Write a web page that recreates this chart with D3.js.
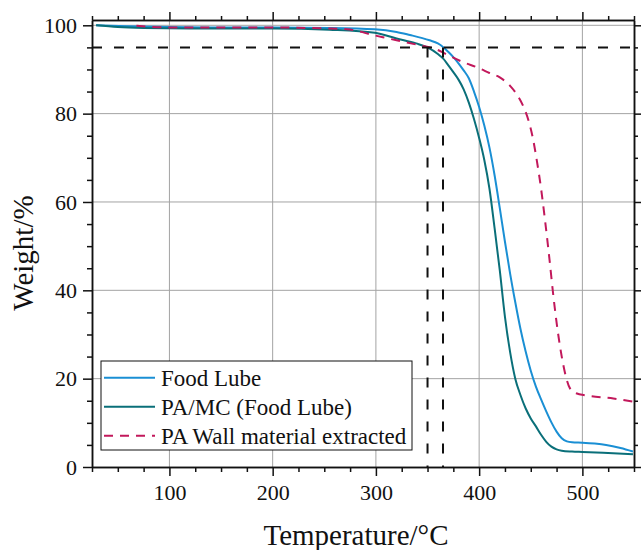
<!DOCTYPE html>
<html>
<head>
<meta charset="utf-8">
<script src="https://cdn.jsdelivr.net/npm/d3@7"></script>
<style>
    body { margin: 0; background: #fff; }
    #chart { width: 641px; height: 550px; }
    text { font-family: "Liberation Serif", "Times New Roman", serif; fill: #111; }
</style>
</head>
<body>
<div id="chart"></div>
<script>
// TGA data (temperature in °C, weight in %)
const foodLubeTemp   = [29, 60, 100, 150, 200, 255, 299, 320, 333, 345, 352, 360, 365, 370, 375, 380, 385, 390, 395, 400, 405, 410, 415, 420, 425, 430, 435, 440, 445, 450, 455, 460, 465, 470, 475, 480, 485, 490, 500, 512, 523, 537, 549];
const foodLubeWeight = [100, 99.8, 99.6, 99.5, 99.5, 99.4, 99.1, 98.5, 97.8, 97.1, 96.6, 95.9, 95.1, 94.0, 92.8, 91.4, 89.8, 88.0, 85.0, 81.5, 77.3, 72.3, 66, 58.6, 51, 43.8, 37.3, 31.3, 26.2, 21.8, 18.2, 15.3, 12.6, 10.1, 8.0, 6.5, 5.8, 5.6, 5.5, 5.3, 5.0, 4.3, 3.5];

const paMcTemp   = [29, 50, 75, 120, 200, 255, 299, 320, 339, 350, 360, 365, 370, 375, 380, 385, 390, 395, 400, 405, 410, 415, 420, 425, 430, 435, 440, 445, 450, 455, 460, 465, 470, 475, 480, 490, 500, 520, 549];
const paMcWeight = [100, 99.6, 99.4, 99.3, 99.3, 99.0, 98.3, 97.0, 95.9, 95.0, 93.5, 92.5, 91.0, 89.4, 87.7, 85.5, 82.5, 78.8, 74.5, 69.5, 63, 54, 44.5, 34, 26, 20, 16.3, 13.3, 11, 9.2, 7.3, 5.7, 4.6, 4.0, 3.7, 3.5, 3.4, 3.2, 2.9];

const paWallTemp   = [68, 100, 150, 200, 250, 272, 299, 320, 342, 357, 367, 384, 400, 410, 420, 430, 438, 444, 448, 452, 456, 460, 464, 468, 472, 476, 480, 484, 488, 494, 504, 530, 549];
const paWallWeight = [99.9, 99.5, 99.5, 99.5, 99.3, 99.1, 97.7, 96.6, 95.5, 94.7, 93.6, 91.7, 90.3, 89.2, 88.2, 86.3, 83.8, 81, 78.3, 74.5, 69.2, 63, 55.5, 47.3, 38.5, 31, 25, 20.5, 17.8, 16.7, 16.2, 15.5, 14.8];

const seriesNames = ['Food Lube', 'PA/MC (Food Lube)', 'PA Wall material extracted'];
const xTicks = [100, 200, 300, 400, 500];
const yTicks = [0, 20, 40, 60, 80, 100];
const onsetTemps = [350, 365];   // 5% weight loss markers
const onsetWeight = 95;

class TgaChart {
    constructor(containerId) {
        this.container = d3.select(`#${containerId}`);
        this.width = 641;
        this.height = 550;
        this.margin = { top: 20, right: 7, bottom: 83, left: 92 };
    }

    render() {
        const { width, height, margin } = this;
        const innerWidth = width - margin.left - margin.right;
        const innerHeight = height - margin.top - margin.bottom;

        const svg = this.container.append('svg')
            .attr('width', width)
            .attr('height', height);

        const g = svg.append('g')
            .attr('transform', `translate(${margin.left},${margin.top})`);

        const xScale = d3.scaleLinear().domain([25, 550]).range([0, innerWidth]);
        const yScale = d3.scaleLinear().domain([0, 101.2]).range([innerHeight, 0]);

        const series = [
            { name: seriesNames[0], temp: foodLubeTemp, weight: foodLubeWeight, color: '#1a8fd4', dash: null },
            { name: seriesNames[1], temp: paMcTemp, weight: paMcWeight, color: '#0a6f79', dash: null },
            { name: seriesNames[2], temp: paWallTemp, weight: paWallWeight, color: '#c2185b', dash: '9,7' }
        ];

        // grid lines
        g.append('g').selectAll('line')
            .data(xTicks)
            .enter().append('line')
            .attr('x1', d => xScale(d)).attr('x2', d => xScale(d))
            .attr('y1', 0).attr('y2', innerHeight)
            .attr('stroke', '#a3a3a3').attr('stroke-width', 1);

        g.append('g').selectAll('line')
            .data(yTicks.filter(d => d > 0))
            .enter().append('line')
            .attr('x1', 0).attr('x2', innerWidth)
            .attr('y1', d => yScale(d)).attr('y2', d => yScale(d))
            .attr('stroke', '#a3a3a3').attr('stroke-width', 1);

        // clip for curves
        svg.append('defs').append('clipPath').attr('id', 'plot-clip')
            .append('rect').attr('width', innerWidth).attr('height', innerHeight);

        const line = d3.line()
            .x(d => xScale(d[0]))
            .y(d => yScale(d[1]))
            .curve(d3.curveMonotoneX);

        const curves = g.append('g').attr('clip-path', 'url(#plot-clip)');
        series.forEach(s => {
            curves.append('path')
                .datum(d3.zip(s.temp, s.weight))
                .attr('fill', 'none')
                .attr('stroke', s.color)
                .attr('stroke-width', 2)
                .attr('stroke-dasharray', s.dash)
                .attr('d', line);
        });

        // 5% weight loss markers
        g.append('line')
            .attr('x1', 0).attr('x2', innerWidth)
            .attr('y1', yScale(onsetWeight)).attr('y2', yScale(onsetWeight))
            .attr('stroke', '#111').attr('stroke-width', 2)
            .attr('stroke-dasharray', '10,12');

        g.selectAll('.onset')
            .data(onsetTemps)
            .enter().append('line')
            .attr('class', 'onset')
            .attr('x1', d => xScale(d)).attr('x2', d => xScale(d))
            .attr('y1', yScale(onsetWeight)).attr('y2', innerHeight)
            .attr('stroke', '#111').attr('stroke-width', 2)
            .attr('stroke-dasharray', '10,12');

        // axes: major + minor ticks on all four sides
        const xMinor = d3.range(25, 551, 25).filter(d => d % 100 !== 0);
        const yMinor = d3.range(5, 101, 5).filter(d => d % 20 !== 0);

        const styleAxis = sel => {
            sel.selectAll('path').attr('stroke', '#111').attr('stroke-width', 1.5);
            sel.selectAll('line').attr('stroke', '#111').attr('stroke-width', 1.5);
            sel.selectAll('text').style('font-size', '22px').style('font-family', '"Liberation Serif", serif').attr('fill', '#111');
        };

        g.append('g').attr('transform', `translate(0,${innerHeight})`)
            .call(d3.axisBottom(xScale).tickValues(xMinor).tickSize(5).tickFormat('').tickSizeOuter(0)).call(styleAxis);
        g.append('g').attr('transform', `translate(0,${innerHeight})`)
            .call(d3.axisBottom(xScale).tickValues(xTicks).tickSize(9).tickPadding(8).tickSizeOuter(0)).call(styleAxis);

        g.append('g')
            .call(d3.axisTop(xScale).tickValues(xMinor).tickSize(4).tickFormat('').tickSizeOuter(0)).call(styleAxis);
        g.append('g')
            .call(d3.axisTop(xScale).tickValues(xTicks).tickSize(8).tickFormat('').tickSizeOuter(0)).call(styleAxis);

        g.append('g')
            .call(d3.axisLeft(yScale).tickValues(yMinor).tickSize(5).tickFormat('').tickSizeOuter(0)).call(styleAxis);
        g.append('g')
            .call(d3.axisLeft(yScale).tickValues(yTicks).tickSize(9).tickPadding(6).tickSizeOuter(0)).call(styleAxis);

        g.append('g').attr('transform', `translate(${innerWidth},0)`)
            .call(d3.axisRight(yScale).tickValues(yMinor).tickSize(4).tickFormat('').tickSizeOuter(0)).call(styleAxis);
        g.append('g').attr('transform', `translate(${innerWidth},0)`)
            .call(d3.axisRight(yScale).tickValues(yTicks).tickSize(8).tickFormat('').tickSizeOuter(0)).call(styleAxis);

        // axis titles
        svg.append('text')
            .attr('x', 356).attr('y', 545)
            .attr('text-anchor', 'middle')
            .style('font-size', '29px')
            .text('Temperature/°C');

        svg.append('text')
            .attr('transform', 'translate(33,253) rotate(-90)')
            .attr('text-anchor', 'middle')
            .style('font-size', '29px')
            .text('Weight/%');

        // legend
        const legend = svg.append('g').attr('transform', 'translate(101,361)');
        legend.append('rect')
            .attr('width', 311).attr('height', 89)
            .attr('fill', '#fff').attr('stroke', '#111').attr('stroke-width', 1);

        const rows = legend.selectAll('.row')
            .data(series)
            .enter().append('g')
            .attr('class', 'row')
            .attr('transform', (d, i) => `translate(0,${16.7 + i * 29})`);

        rows.append('line')
            .attr('x1', 3).attr('x2', 54)
            .attr('stroke', d => d.color)
            .attr('stroke-width', 2)
            .attr('stroke-dasharray', d => d.dash);

        rows.append('text')
            .attr('x', 60).attr('y', 7.8)
            .style('font-size', '23px')
            .text(d => d.name);
    }
}

new TgaChart('chart').render();
</script>
</body>
</html>
